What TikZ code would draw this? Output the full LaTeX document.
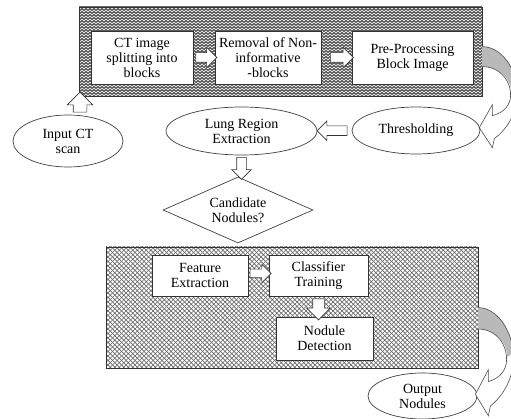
\documentclass[tikz,border=0pt]{standalone}
\usepackage{fontspec}
\setmainfont{Liberation Serif}
\usetikzlibrary{shapes.geometric, shapes.arrows, patterns, calc}

% hatching of the two stage frames
\pgfdeclarepatternformonly{wavelines}{\pgfpoint{-0.5pt}{-0.5pt}}{\pgfpoint{4.5pt}{3.5pt}}{\pgfpoint{4pt}{3pt}}{
	\pgfsetlinewidth{0.85pt}
	\pgfpathmoveto{\pgfpoint{0pt}{0.5pt}}
	\pgfpathcurveto{\pgfpoint{1pt}{0.5pt}}{\pgfpoint{1pt}{2.5pt}}{\pgfpoint{2pt}{2.5pt}}
	\pgfpathcurveto{\pgfpoint{3pt}{2.5pt}}{\pgfpoint{3pt}{0.5pt}}{\pgfpoint{4pt}{0.5pt}}
	\pgfusepath{stroke}}
\pgfdeclarepatternformonly{diagcross}{\pgfpoint{-0.5pt}{-0.5pt}}{\pgfpoint{5pt}{5pt}}{\pgfpoint{4.5pt}{4.5pt}}{
	\pgfsetlinewidth{0.7pt}
	\pgfpathmoveto{\pgfpoint{0pt}{0pt}}\pgfpathlineto{\pgfpoint{4.5pt}{4.5pt}}
	\pgfpathmoveto{\pgfpoint{0pt}{4.5pt}}\pgfpathlineto{\pgfpoint{4.5pt}{0pt}}
	\pgfusepath{stroke}}

\tikzset{
	wavebox/.style={draw=black!80, line width=0.7pt, preaction={fill=black!10}, pattern=wavelines, pattern color=black!80},
	crossbox/.style={draw=black!80, line width=0.7pt, preaction={fill=white}, pattern=diagcross, pattern color=black!60},
	stage/.style={draw=black!80, line width=0.7pt, fill=white, align=center, inner sep=2pt},
	bubble/.style={ellipse, draw=black!75, line width=0.7pt, fill=white, align=center, inner sep=0pt},
	decision/.style={diamond, draw=black!75, line width=0.7pt, fill=white, align=center, inner sep=0pt, aspect=2.3},
	blockarr/.style={single arrow, draw=black!80, line width=0.6pt, fill=white, inner xsep=0pt, inner ysep=4.5pt,
		minimum width=20pt, single arrow head extend=5.5pt, single arrow head indent=0pt},
	vblockarr/.style={blockarr, inner ysep=0pt, inner xsep=#1},
	bendarrow/.pic={
		% white body with head
		\fill[white] (0,20) .. controls (18,20) and (30,35) .. (28,52) .. controls (26,62) and (18,67) .. (10,69)
			-- (10,58) -- (-3,81) -- (10,101) -- (12,92)
			.. controls (28,80) and (37,60) .. (35,42) .. controls (33,20) and (18,0) .. (0,0) -- cycle;
		% gray back band
		\fill[gray!55] (0,0) .. controls (18,0) and (33,20) .. (35,42)
			-- (29,46) .. controls (29,32) and (16,20) .. (0,20) -- cycle;
		\draw[black!70, line width=0.6pt] (0,20) .. controls (18,20) and (30,35) .. (28,52) .. controls (26,62) and (18,67) .. (10,69)
			-- (10,58) -- (-3,81) -- (10,101) -- (12,92)
			.. controls (28,80) and (37,60) .. (35,42) .. controls (33,20) and (18,0) .. (0,0);
	}
}

\begin{document}
\begin{tikzpicture}[x=1pt, y=-1pt, font=\fontsize{14}{15}\selectfont]
	\def\bh{53pt}
	\def\sh{41pt}

	\useasboundingbox (0,0) rectangle (511,419);
	\clip (0,0) rectangle (511,419);

	% --- Top frame: block preparation ---
	\node[wavebox, minimum width=403pt, minimum height=89pt] (prep) at (280.5,51.5) {};
	\node[stage, minimum width=102pt, minimum height=\bh] (split) at (142,57.5) {CT image\\splitting into\\blocks};
	\node[stage, minimum width=106pt, minimum height=\bh] (removal) at (268,57.5) {Removal of Non-\\informative\\-blocks};
	\node[stage, minimum width=121pt, minimum height=\bh] (preproc) at (412.5,57.5) {Pre-Processing\\Block Image};

	\node[blockarr, minimum height=21pt] (a1) at ($(split.east)!0.5!(removal.west)$) {};
	\node[blockarr, minimum height=23pt] (a2) at ($(removal.east)!0.5!(preproc.west)+(3,0)$) {};

	% --- Middle: ellipses and decision ---
	\node[bubble, minimum width=110pt, minimum height=52pt] (input) at (68,141) {Input CT\\scan};
	\node[bubble, minimum width=151pt, minimum height=48pt] (lung) at (241.5,131) {Lung Region\\Extraction};
	\node[bubble, minimum width=128pt, minimum height=47pt] (thresh) at (416,130.5) {Thresholding};
	\node[decision, minimum width=150pt, minimum height=66pt] (cand) at (238,210) {Candidate\\Nodules?};

	\node[vblockarr=6.5pt, minimum height=20pt, minimum width=25pt, single arrow head extend=6pt, shape border rotate=90] (a3)
		at ($(input.north)!0.5!(input.north|-prep.south)+(12,0)$) {};
	\node[blockarr, minimum height=30pt, minimum width=19pt, single arrow head extend=5pt, shape border rotate=180] (a4)
		at ($(thresh.west)!0.5!(lung.east)$) {};
	\node[vblockarr=4.5pt, minimum height=22pt, minimum width=19pt, single arrow head extend=5pt, shape border rotate=270] (a5)
		at ($(lung.south)!0.5!(lung.south|-cand.north)$) {};

	% --- Bottom frame: classification ---
	\node[crossbox, minimum width=372pt, minimum height=121pt] (classify) at (292,307.5) {};
	\node[stage, minimum width=96pt, minimum height=\sh] (feature) at (200,275.5) {Feature\\Extraction};
	\node[stage, minimum width=99pt, minimum height=\sh] (training) at (318.5,275.5) {Classifier\\Training};
	\node[stage, minimum width=97pt, minimum height=43pt] (nodule) at (324.5,338.5) {Nodule\\Detection};
	\node[bubble, minimum width=109pt, minimum height=46pt] (output) at (422.5,396) {Output\\Nodules};

	\node[blockarr, minimum height=21pt, minimum width=18pt, inner ysep=4pt, single arrow head extend=5pt] (a6)
		at ($(feature.east)!0.5!(training.west)+(0,-2)$) {};
	\node[vblockarr=5.5pt, minimum height=21pt, minimum width=23pt, single arrow head extend=6pt, shape border rotate=270] (a7)
		at ($(training.south)!0.5!(training.south|-nodule.north)$) {};

	% --- Bent arrows leaving the frames ---
	\pic at ($(prep.north east)+(0,40)$) {bendarrow};
	\pic[yscale=1.07] at ($(classify.north east)+(0,61)$) {bendarrow};
\end{tikzpicture}
\end{document}
